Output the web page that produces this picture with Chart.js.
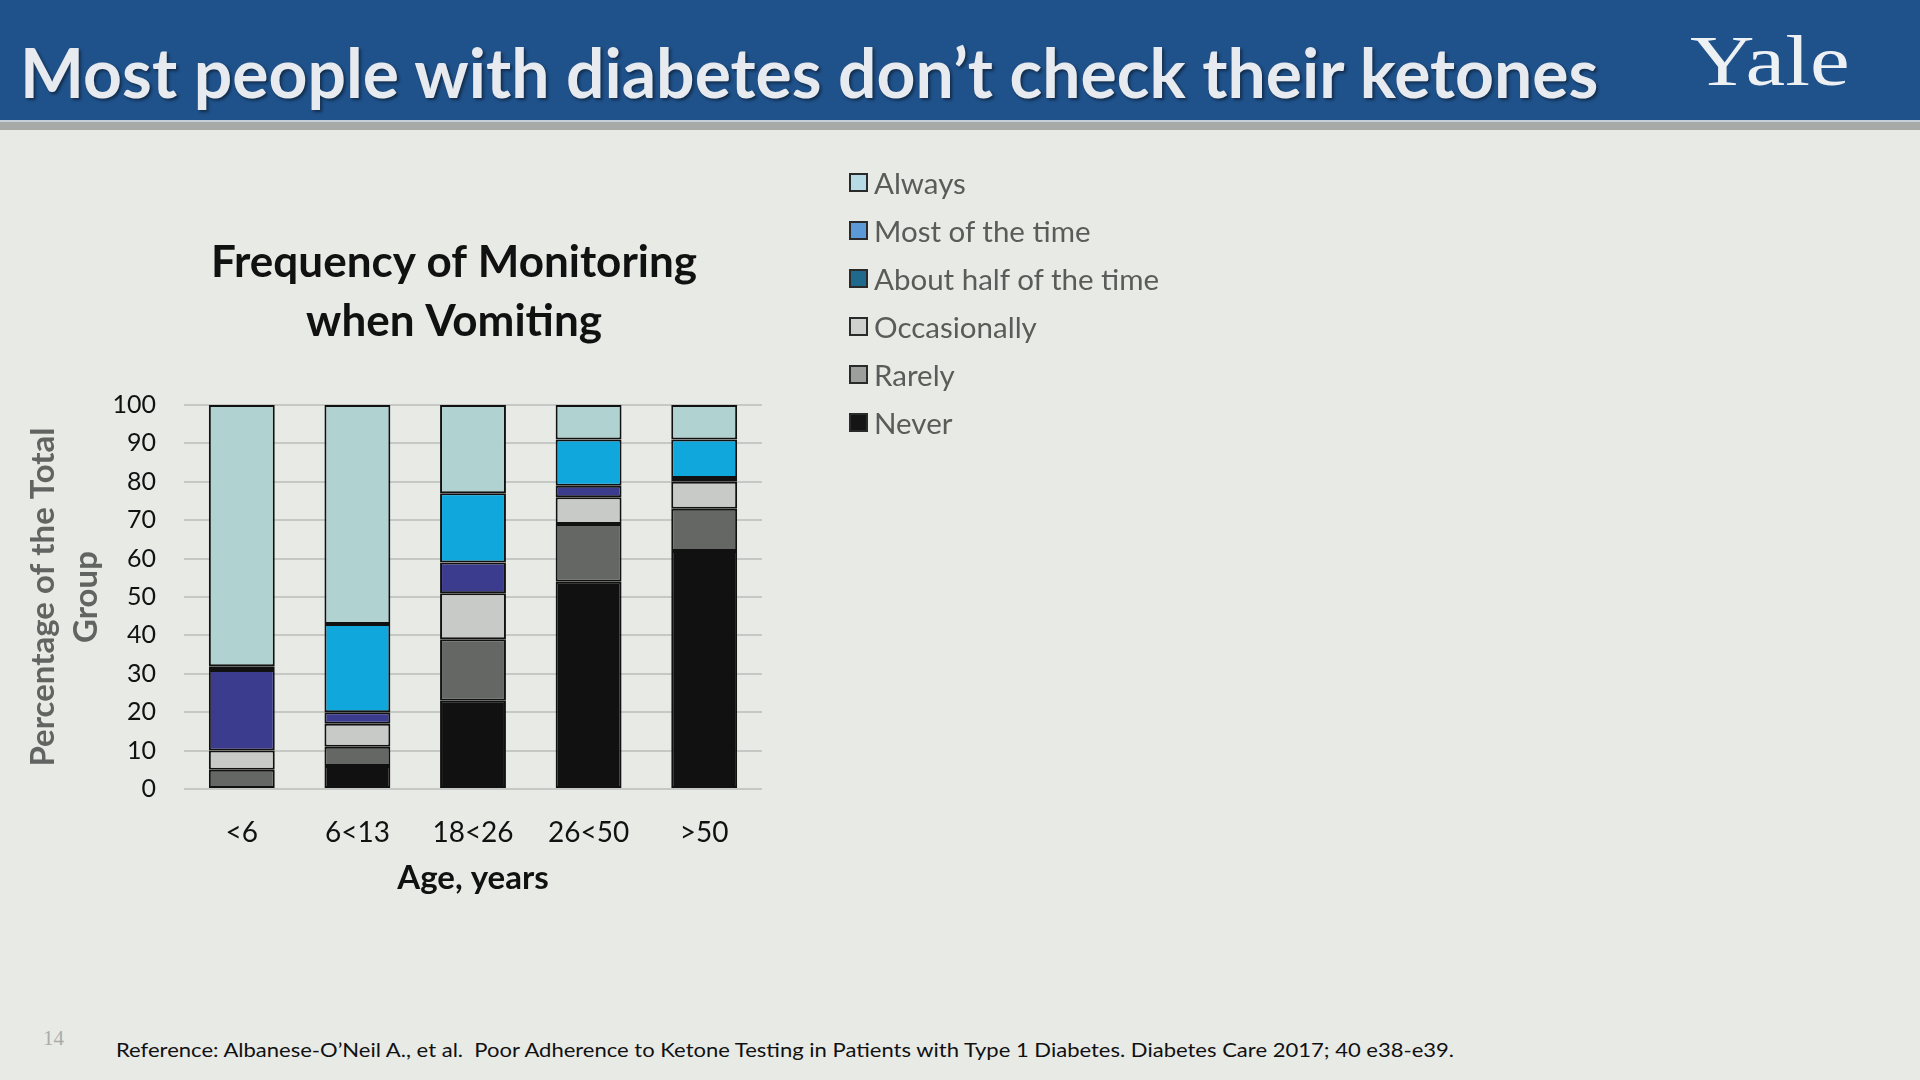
<!DOCTYPE html>
<html>
<head>
<meta charset="utf-8">
<script src="https://cdn.jsdelivr.net/npm/chart.js@4.4.1/dist/chart.umd.min.js"></script>
<style>
    html, body { margin: 0; padding: 0; }
    body { width: 1920px; height: 1080px; background: #e8eae6; position: relative; overflow: hidden; font-family: Lato, "Open Sans", sans-serif; }
    #band { position: absolute; left: 0; top: 0; width: 1920px; height: 120px; background: #1f518a; }
    #rule1 { position: absolute; left: 0; top: 120px; width: 1920px; height: 2px; background: #c6d0da; }
    #rule2 { position: absolute; left: 0; top: 122px; width: 1920px; height: 8px; background: #a7aaa7; }
    #headline { position: absolute; left: 20px; top: 38px; font-weight: 700; font-size: 68px; line-height: 68px; color: #e7eaee; white-space: nowrap; transform-origin: 0 0; text-shadow: 2px 2px 3px rgba(0,0,0,0.45); }
    #yale { position: absolute; left: 1690px; top: 25px; font-family: "Liberation Serif", serif; font-size: 72px; line-height: 72px; color: #eef1f4; white-space: nowrap; transform-origin: 0 0; }
    #pageno { position: absolute; left: 43px; top: 1028px; font-family: "Liberation Serif", serif; font-size: 21px; line-height: 21px; color: #a9aca9; }
    #ref { position: absolute; left: 116px; top: 1037px; font-size: 20px; line-height: 24px; color: #111; white-space: nowrap; transform-origin: 0 0; }
    #chartBox { position: absolute; left: 0; top: 220px; width: 908px; height: 690px; }
    #legend { position: absolute; left: 849px; top: 158px; margin: 0; padding: 0; list-style: none; }
    #legend li { height: 48px; display: flex; align-items: center; font-size: 29.5px; color: #5a5c5a; white-space: nowrap; }
    #legend span.sw { width: 15px; height: 15px; border: 2px solid #2a2a2a; margin-right: 6px; flex: none; }
</style>
</head>
<body>
<div id="band"></div>
<div id="rule1"></div>
<div id="rule2"></div>
<div id="headline">Most people with diabetes don’t check their ketones</div>
<div id="yale">Yale</div>

<div id="chartBox"><canvas id="vomitChart" width="908" height="690"></canvas></div>
<ul id="legend"></ul>

<div id="pageno">14</div>
<div id="ref">Reference: Albanese-O’Neil A., et al.&nbsp; Poor Adherence to Ketone Testing in Patients with Type 1 Diabetes. Diabetes Care 2017; 40 e38-e39.</div>

<script>
    const FONT = "Lato";

    // age groups along the x axis
    const ageGroups = ["<6", "6<13", "18<26", "26<50", ">50"];

    // percentage of each group, stacked bottom -> top
    const never        = [0, 6, 23, 54, 62];
    const rarely       = [5, 5, 16, 15, 11];
    const occasionally = [5, 6, 12, 7, 7];
    const aboutHalf    = [21, 3, 8, 3, 1];
    const mostOfTime   = [1, 23, 18, 12, 10];
    const always       = [68, 57, 23, 9, 9];

    const yTicks = { min: 0, max: 100, step: 10 };

    // bar fills, and the (different) swatches the slide legend uses
    const barColors = {
        never: "#111111", rarely: "#656765", occasionally: "#c8cac7",
        aboutHalf: "#3c3c8e", mostOfTime: "#10a8dc", always: "#b0d3d2"
    };
    const legendColors = {
        always: "#b7dbe6", mostOfTime: "#5b9ad6", aboutHalf: "#1f6a8c",
        occasionally: "#cfd1ce", rarely: "#9d9f9c", never: "#151515"
    };

    const series = [
        { key: "never", label: "Never", data: never },
        { key: "rarely", label: "Rarely", data: rarely },
        { key: "occasionally", label: "Occasionally", data: occasionally },
        { key: "aboutHalf", label: "About half of the time", data: aboutHalf },
        { key: "mostOfTime", label: "Most of the time", data: mostOfTime },
        { key: "always", label: "Always", data: always }
    ];

    function fitWidth(id, w) {
        const el = document.getElementById(id);
        el.style.transform = `scaleX(${w / el.offsetWidth})`;
    }

    function buildLegend() {
        const ul = document.getElementById("legend");
        series.slice().reverse().forEach(s => {
            const li = document.createElement("li");
            const sw = document.createElement("span");
            sw.className = "sw";
            sw.style.background = legendColors[s.key];
            li.appendChild(sw);
            li.appendChild(document.createTextNode(s.label));
            ul.appendChild(li);
        });
    }

    function makeChart() {
        const c = document.getElementById("vomitChart").getContext("2d");
        return new Chart(c, {
            type: "bar",
            data: {
                labels: ageGroups,
                datasets: series.map(s => ({
                    label: s.label, data: s.data,
                    backgroundColor: barColors[s.key],
                    borderColor: "#111", borderWidth: 2, borderSkipped: false,
                    barPercentage: 0.57, categoryPercentage: 1
                }))
            },
            options: {
                responsive: false, animation: false, devicePixelRatio: 1,
                layout: { padding: { left: 0, right: 0, top: 0, bottom: 10 } },
                plugins: {
                    legend: { display: false },
                    tooltip: { enabled: false },
                    title: {
                        display: true, text: ["Frequency of Monitoring", "when Vomiting"], color: "#111",
                        font: { family: FONT, size: 44, weight: "bold", lineHeight: 1.33 },
                        padding: { top: 14, bottom: 54 }
                    }
                },
                scales: {
                    x: {
                        stacked: true,
                        grid: { display: false }, border: { display: false },
                        ticks: { color: "#111", font: { family: FONT, size: 28 }, padding: 19, maxRotation: 0 },
                        title: {
                            display: true, text: "Age, years", color: "#111",
                            font: { family: FONT, size: 33, weight: "bold", lineHeight: 1.2 },
                            padding: { top: 0, bottom: 2 }
                        },
                        afterFit(s) { s.height = 111; }
                    },
                    y: {
                        stacked: true, min: yTicks.min, max: yTicks.max,
                        ticks: { stepSize: yTicks.step, color: "#111", font: { family: FONT, size: 25 }, padding: 28 },
                        grid: { color: "#c6c8c5", lineWidth: 2, drawTicks: false },
                        border: { display: false },
                        title: {
                            display: true, text: ["Percentage of the Total", "Group"], color: "#626462",
                            font: { family: FONT, size: 33, weight: "bold", lineHeight: 1.3 },
                            padding: { top: 22, bottom: 0 }
                        },
                        afterFit(s) { s.width = 184; }
                    },
                    // empty right-hand spacer so the chart title centres on the whole canvas
                    spacer: {
                        type: "linear", position: "right", min: 0, max: 100,
                        grid: { display: false }, border: { display: false },
                        ticks: { display: false },
                        afterFit(s) { s.width = 146; }
                    }
                }
            }
        });
    }

    document.fonts.ready.then(() => {
        fitWidth("headline", 1578);
        fitWidth("yale", 160);
        fitWidth("ref", 1338);
        buildLegend();
        makeChart();
    });
</script>
</body>
</html>
